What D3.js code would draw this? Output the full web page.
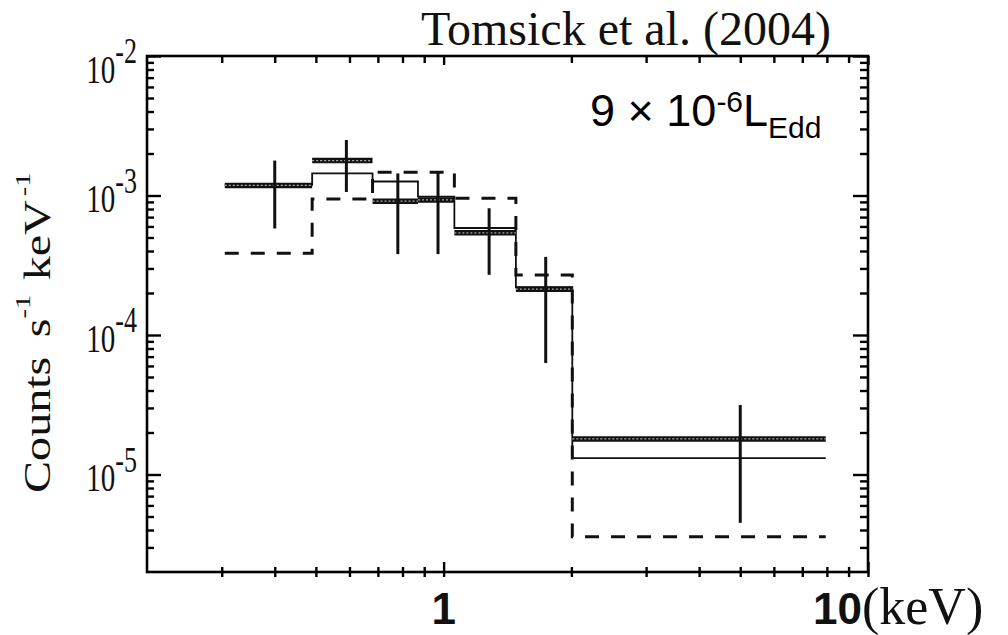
<!DOCTYPE html>
<html>
<head>
<meta charset="utf-8">
<script src="https://cdn.jsdelivr.net/npm/d3@7"></script>
<style>
  body { margin: 0; background: #fff; }
  svg { display: block; }
</style>
</head>
<body>
<svg width="1008" height="635"></svg>
<script>
// spectrum bins (keV) and measured count rates
var binEdges = [0.305, 0.49, 0.68, 0.87, 1.06, 1.48, 2.01, 7.95];
var energy = [0.40, 0.59, 0.78, 0.97, 1.28, 1.74, 5.0];
var counts = [1.18e-3, 1.78e-3, 9.1e-4, 9.3e-4, 5.4e-4, 2.13e-4, 1.8e-5];
var errors = [6.0e-4, 7.2e-4, 5.3e-4, 5.5e-4, 2.7e-4, 1.5e-4, 1.35e-5];

// the two model histograms
var modelSolid = [1.19e-3, 1.44e-3, 1.26e-3, 9.8e-4, 5.85e-4, 2.2e-4, 1.31e-5];
var modelDashed = [3.85e-4, 9.45e-4, 1.47e-3, 1.47e-3, 9.55e-4, 2.69e-4, 3.58e-6];

// tick labels
var xMajor = [1, 10];
var yMajor = [1e-2, 1e-3, 1e-4, 1e-5];
var yExp = ["-2", "-3", "-4", "-5"];

var svg = d3.select("svg");

var x = d3.scaleLog().domain([0.2, 10]).range([147, 868]);
var y = d3.scaleLog().domain([2e-6, 1e-2]).range([572, 56]);

var x0 = x.range()[0], x1 = x.range()[1],
    yb = y.range()[0], yt = y.range()[1];

var xMinor = x.ticks().filter(function(d) { return xMajor.indexOf(d) < 0 && d > 0.2001; });
var yMinor = y.ticks().filter(function(d) { return yMajor.indexOf(d) < 0 && d > 2.01e-6; });

// ticks through d3 axes, no domain path
function ticks(axis, tx, ty) {
	var g = svg.append("g")
		.attr("transform", "translate(" + tx + "," + ty + ")")
		.call(axis.tickFormat(""));
	g.select(".domain").remove();
	g.selectAll(".tick line").attr("stroke", "#000").attr("stroke-width", 2.4);
}

ticks(d3.axisRight(y).tickValues(yMinor).tickSize(7), x0, 0);
ticks(d3.axisRight(y).tickValues(yMajor).tickSize(14), x0, 0);
ticks(d3.axisLeft(y).tickValues(yMinor).tickSize(8), x1, 0);
ticks(d3.axisLeft(y).tickValues(yMajor).tickSize(15), x1, 0);
ticks(d3.axisBottom(x).tickValues(xMinor).tickSize(7), 0, yt);
ticks(d3.axisBottom(x).tickValues(xMajor).tickSize(9), 0, yt);
ticks(d3.axisBottom(x).tickValues(xMinor.concat(xMajor)).tickSize(5), 0, yb);
ticks(d3.axisTop(x).tickValues(xMinor).tickSize(5), 0, yb);
ticks(d3.axisTop(x).tickValues(xMajor).tickSize(10), 0, yb);

// frame
svg.append("rect")
	.attr("x", x0).attr("y", yt)
	.attr("width", x1 - x0).attr("height", yb - yt)
	.attr("fill", "none")
	.attr("stroke", "#000")
	.attr("stroke-width", 2.6);

// model histograms as steps
function stepPoints(vals) {
	return binEdges.map(function(e, i) {
		return [x(e), y(vals[Math.min(i, vals.length - 1)])];
	});
}
var step = d3.line().curve(d3.curveStepAfter);

svg.append("path")
	.attr("d", step(stepPoints(modelDashed)))
	.attr("fill", "none")
	.attr("stroke", "#111")
	.attr("stroke-width", 3)
	.attr("stroke-dasharray", "14,12");

svg.append("path")
	.attr("d", step(stepPoints(modelSolid)))
	.attr("fill", "none")
	.attr("stroke", "#111")
	.attr("stroke-width", 1.8);

// data: bin-width bars
var bars = svg.append("g").selectAll("g")
	.data(counts)
	.enter().append("g");

bars.append("line")
	.attr("x1", function(d, i) { return x(binEdges[i]); })
	.attr("x2", function(d, i) { return x(binEdges[i + 1]); })
	.attr("y1", function(d) { return y(d); })
	.attr("y2", function(d) { return y(d); })
	.attr("stroke", "#111")
	.attr("stroke-width", 5.5);

bars.append("line")
	.attr("x1", function(d, i) { return x(binEdges[i]); })
	.attr("x2", function(d, i) { return x(binEdges[i + 1]); })
	.attr("y1", function(d) { return y(d); })
	.attr("y2", function(d) { return y(d); })
	.attr("stroke", "#aaa")
	.attr("stroke-width", 1.2)
	.attr("stroke-dasharray", "2,2");

// data: error bars
bars.append("line")
	.attr("x1", function(d, i) { return x(energy[i]); })
	.attr("x2", function(d, i) { return x(energy[i]); })
	.attr("y1", function(d, i) { return y(d + errors[i]); })
	.attr("y2", function(d, i) { return y(d - errors[i]); })
	.attr("stroke", "#111")
	.attr("stroke-width", 3);

// y tick labels, squeezed serif as in the figure
var ylab = svg.append("g").selectAll("g")
	.data(yMajor)
	.enter().append("g")
	.attr("transform", function(d) {
		return "translate(137," + Math.max(y(d), yt + 10) + ") scale(1,1.4)";
	});

var ylabText = ylab.append("text")
	.attr("y", 12)
	.attr("text-anchor", "end")
	.attr("font-family", "Liberation Serif, Times New Roman, serif")
	.attr("font-size", 29)
	.attr("fill", "#111");
ylabText.append("tspan").text("10");
ylabText.append("tspan")
	.attr("dy", -14)
	.attr("font-size", 26)
	.text(function(d, i) { return yExp[i]; });

// y axis title
var yTitle = svg.append("text")
	.attr("transform", "translate(50,493) rotate(-90) scale(1.3,1)")
	.attr("font-family", "Liberation Serif, Times New Roman, serif")
	.attr("font-size", 37)
	.attr("fill", "#111");
yTitle.append("tspan").text("Counts");
yTitle.append("tspan").attr("dx", 15).text("s");
yTitle.append("tspan").attr("dy", -20).attr("font-size", 22).text("-1");
yTitle.append("tspan").attr("dy", 20).attr("dx", 11).text("keV");
yTitle.append("tspan").attr("dy", -20).attr("dx", 3).attr("font-size", 22).text("-1");

// x tick labels
svg.append("text")
	.attr("x", x(1))
	.attr("y", 624)
	.attr("text-anchor", "middle")
	.attr("font-family", "Liberation Sans, Arial, sans-serif")
	.attr("font-weight", "bold")
	.attr("font-size", 44)
	.attr("fill", "#111")
	.text("1");

var xl = svg.append("text")
	.attr("x", x(10) - 55)
	.attr("y", 624)
	.attr("fill", "#111");
xl.append("tspan")
	.attr("font-family", "Liberation Sans, Arial, sans-serif")
	.attr("font-weight", "bold")
	.attr("font-size", 44)
	.text("10");
xl.append("tspan")
	.attr("font-family", "Liberation Serif, Times New Roman, serif")
	.attr("font-size", 52)
	.text("(keV)");

// reference and luminosity annotation
svg.append("text")
	.attr("x", 421)
	.attr("y", 45)
	.attr("font-family", "Liberation Serif, Times New Roman, serif")
	.attr("font-size", 48)
	.attr("fill", "#111")
	.text("Tomsick et al. (2004)");

var lum = svg.append("text")
	.attr("x", 590)
	.attr("y", 126)
	.attr("font-family", "Liberation Sans, Arial, sans-serif")
	.attr("font-size", 45)
	.attr("fill", "#000");
lum.append("tspan").text("9 \u00d7 10");
lum.append("tspan").attr("dy", -14).attr("font-size", 30).text("-6");
lum.append("tspan").attr("dy", 14).text("L");
lum.append("tspan").attr("dy", 12).attr("font-size", 30).text("Edd");
</script>
</body>
</html>
